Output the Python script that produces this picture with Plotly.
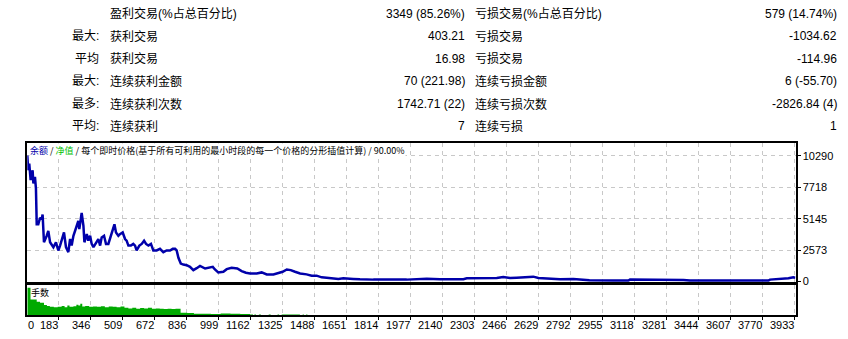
import plotly.graph_objects as go

# ---------------- data ----------------
row_label1 = ["", "最大:", "平均", "最大:", "最多:", "平均:"]
row_label2 = ["盈利交易(%占总百分比)", "获利交易", "获利交易", "连续获利金额", "连续获利次数", "连续获利"]
row_value1 = ["3349 (85.26%)", "403.21", "16.98", "70 (221.98)", "1742.71 (22)", "7"]
row_label3 = ["亏损交易(%占总百分比)", "亏损交易", "亏损交易", "连续亏损金额", "连续亏损次数", "连续亏损"]
row_value2 = ["579 (14.74%)", "-1034.62", "-114.96", "6 (-55.70)", "-2826.84 (4)", "1"]

balance_trade = [25, 30, 35, 42, 52, 56, 64, 69, 73, 81, 90, 98, 103, 110, 124, 132, 141, 158, 171, 183,
                 192, 205, 212, 222, 234, 243, 251, 260, 268, 277, 285, 290, 302, 311, 316, 328, 336, 345,
                 353, 362, 375, 387, 396, 404, 416, 426, 438, 450, 460, 469, 477, 489, 497, 511, 523, 531,
                 540, 553, 565, 574, 582, 596, 608, 620, 630, 642, 655, 667, 684, 701, 718, 735, 752, 766,
                 778, 786, 795, 807, 820, 837, 854, 871, 888, 905, 931, 947, 970, 981, 998, 1024, 1041,
                 1066, 1095, 1117, 1139, 1160, 1194, 1219, 1245, 1279, 1304, 1326, 1347, 1367, 1389, 1415,
                 1448, 1474, 1499, 1525, 1550, 1584, 1610, 1635, 1661, 1686, 1720, 1788, 1958, 2009, 2060,
                 2128, 2247, 2264, 2332, 2366, 2417, 2450, 2485, 2518, 2552, 2603, 2629, 2688, 2739, 2807,
                 2875, 2889, 3011, 3087, 3096, 3249, 3266, 3300, 3368, 3401, 3521, 3554, 3588, 3801, 3809,
                 3877, 3903, 3928, 3938]
balance_value = [10319, 9113, 9649, 8309, 9113, 8041, 8577, 7639, 4692, 4692, 5228, 5094, 5496, 3218, 3754,
                 4156, 3218, 2816, 3218, 2548, 2950, 3754, 4022, 2816, 2414, 3486, 2950, 3754, 4156, 4558,
                 4961, 4290, 5630, 4558, 3218, 3888, 3352, 3754, 3084, 2816, 3218, 3486, 2950, 3620, 3754,
                 3084, 3084, 3754, 4156, 4692, 4022, 3754, 3888, 4022, 3486, 3352, 2950, 2950, 3084, 2950,
                 2548, 2950, 3084, 3352, 3084, 2950, 3084, 2548, 2548, 2682, 2414, 2548, 2548, 2682, 2682,
                 2548, 1950, 1476, 1396, 1342, 1208, 940, 1100, 1289, 1074, 1128, 1208, 994, 753, 806, 1021,
                 1128, 1074, 860, 726, 672, 672, 753, 592, 592, 726, 806, 994, 940, 806, 672, 592, 485, 485,
                 351, 324, 270, 217, 270, 217, 217, 190, 163, 163, 217, 243, 190, 190, 270, 270, 243, 297,
                 378, 297, 324, 351, 405, 297, 243, 190, 217, 163, 109, 83, 83, 163, 163, 109, 163, 136, 83,
                 83, 136, 83, 83, 163, 217, 270, 351, 324]

lots_trade = [25, 73, 90, 110, 125, 140, 160, 180, 200, 215, 229, 240, 260, 275, 285, 295, 305, 320, 340,
              360, 380, 400, 420, 440, 460, 480, 500, 520, 540, 560, 580, 600, 620, 640, 660, 680, 700, 720,
              740, 760, 780, 806, 840, 874, 960, 1010, 1060, 1110, 1160, 1175, 1182, 1190, 1205, 1215, 1255,
              1265, 1300, 1308, 1321, 1414, 1428, 1434, 1446, 1452]
lots_value = [0.88, 0.43, 0.40, 0.33, 0.30, 0.27, 0.26, 0.27, 0.30, 0.26, 0.31, 0.27, 0.29, 0.34, 0.31,
              0.37, 0.28, 0.30, 0.27, 0.28, 0.27, 0.29, 0.26, 0.28, 0.27, 0.26, 0.28, 0.24, 0.22, 0.24, 0.21,
              0.23, 0.22, 0.24, 0.21, 0.22, 0.21, 0.20, 0.21, 0.20, 0.21, 0.08, 0.07, 0.05, 0.045, 0.06,
              0.05, 0.045, 0.03, 0.0, 0.03, 0.0, 0.03, 0.0, 0.03, 0.0, 0.03, 0.0, 0.03, 0.0, 0.03, 0.0,
              0.03, 0.0]

x_tick_values = [0, 183, 346, 509, 672, 836, 999, 1162, 1325, 1488, 1651, 1814, 1977, 2140, 2303, 2466,
                 2629, 2792, 2955, 3118, 3281, 3444, 3607, 3770, 3933]
x_tick_labels = [str(v) for v in x_tick_values]
y_tick_values = [0, 2573, 5145, 7718, 10290]
y_tick_labels = ["0", "2573", "5145", "7718", "10290"]

chart_title_parts = ["余额", "净值", "每个即时价格(基于所有可利用的最小时段的每一个价格的分形插值计算)", "90.00%"]
lots_title = "手数"

# ---------------- style ----------------
W, H = 848, 339
BAL_COLOR = "#0000aa"
LOT_COLOR = "#00aa00"
GRID = "#c8c8c8"
TXT_FONT = "Liberation Sans, Noto Sans CJK SC, sans-serif"
NUM_FONT = "Liberation Sans Narrow, Liberation Sans, sans-serif"
CJK_FONT = "Noto Sans CJK SC, Liberation Sans, sans-serif"

X_RANGE = [25, 3940]
px_l, px_r = 27.3, 795.7
main_top, main_bot = 145.5, 287.0
vol_top, vol_bot = 290.6, 321.0


def py(p):
    return 1 - p / H


fig = go.Figure()
fig.add_trace(go.Scatter(x=lots_trade, y=lots_value, mode="lines", line=dict(width=0, shape="hv"),
                         fill="tozeroy", fillcolor=LOT_COLOR, xaxis="x", yaxis="y", hoverinfo="skip"))
fig.add_trace(go.Scatter(x=balance_trade, y=balance_value, mode="lines",
                         line=dict(color=BAL_COLOR, width=2.5), xaxis="x2", yaxis="y2"))

axis_common = dict(showline=True, linecolor="black", linewidth=1.6, mirror=True, zeroline=False)

fig.update_layout(
    width=W, height=H, margin=dict(l=0, r=0, t=0, b=0),
    paper_bgcolor="white", plot_bgcolor="white", showlegend=False,
    xaxis=dict(domain=[px_l / W, px_r / W], range=X_RANGE, tickvals=x_tick_values[1:],
               showticklabels=False, ticks="outside", ticklen=3, tickcolor="black",
               showgrid=True, gridcolor=GRID, griddash="4px,4px", gridwidth=1, anchor="y", **axis_common),
    yaxis=dict(domain=[py(vol_bot), py(vol_top)], range=[0, 0.95], showgrid=False,
               showticklabels=False, ticks="", anchor="x", **axis_common),
    xaxis2=dict(domain=[px_l / W, px_r / W], range=X_RANGE, matches="x", tickvals=x_tick_values[1:],
                showticklabels=False, ticks="", showgrid=True, gridcolor=GRID, griddash="4px,4px",
                gridwidth=1, anchor="y2", **axis_common),
    yaxis2=dict(domain=[py(main_bot), py(main_top)], range=[-25, 11351], side="right",
                tickvals=y_tick_values, ticktext=y_tick_labels, ticks="outside", ticklen=3,
                tickcolor="black", tickfont=dict(family=NUM_FONT, size=11, color="black"),
                showgrid=True, gridcolor=GRID, griddash="4px,4px", gridwidth=1, anchor="x2",
                **axis_common),
)

ann = []
row_y = [13.8, 37.0, 60.0, 82.8, 106.2, 128.7]
for i in range(len(row_y)):
    yy = py(row_y[i])
    f = dict(family=TXT_FONT, size=12, color="black")
    if row_label1[i]:
        ann.append(dict(text=row_label1[i], x=101 / W, y=yy, xanchor="right", yanchor="middle", font=f))
    ann.append(dict(text=row_label2[i], x=107.5 / W, y=yy, xanchor="left", yanchor="middle", font=f))
    ann.append(dict(text=row_value1[i], x=467.5 / W, y=yy, xanchor="right", yanchor="middle", font=f))
    ann.append(dict(text=row_label3[i], x=473 / W, y=yy, xanchor="left", yanchor="middle", font=f))
    ann.append(dict(text=row_value2[i], x=838.5 / W, y=yy, xanchor="right", yanchor="middle", font=f))

title_html = (f"<span style='color:{BAL_COLOR}'>{chart_title_parts[0]}</span> / "
              f"<span style='color:#00c000'>{chart_title_parts[1]}</span> / "
              f"{chart_title_parts[2]} / {chart_title_parts[3]}")
ann.append(dict(text=title_html, x=29 / W, y=py(153.3), xanchor="left", yanchor="middle",
                font=dict(family=CJK_FONT, size=9, color="black"), bgcolor="white", borderpad=0))
ann.append(dict(text=lots_title, x=29.5 / W, y=py(298), xanchor="left", yanchor="middle",
                font=dict(family=CJK_FONT, size=9, color="black"), bgcolor="white", borderpad=0))

for v, t in zip(x_tick_values, x_tick_labels):
    if v < X_RANGE[0]:
        ann.append(dict(text=t, x=X_RANGE[0], xref="x", y=py(331), yref="paper", xanchor="left",
                        yanchor="middle", borderpad=0,
                        font=dict(family=NUM_FONT, size=11, color="black")))
    else:
        ann.append(dict(text=t, x=v, xref="x", y=py(331), yref="paper", xanchor="right",
                        yanchor="middle", xshift=1, borderpad=0,
                        font=dict(family=NUM_FONT, size=11, color="black")))

for a in ann:
    a.setdefault("xref", "paper")
    a.setdefault("yref", "paper")
    a["showarrow"] = False
fig.update_layout(annotations=ann)

fig.write_html("out.html")
